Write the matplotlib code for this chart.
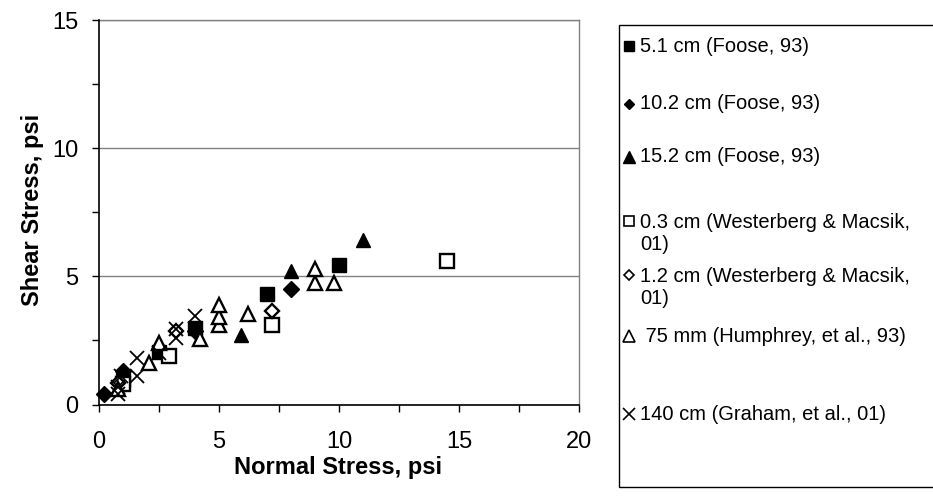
import matplotlib
matplotlib.use("Agg")
import matplotlib.pyplot as plt
from matplotlib.lines import Line2D
from matplotlib.patches import Rectangle

plt.rcParams['font.family'] = ['Liberation Sans', 'DejaVu Sans']

# Normal stress (psi) / shear stress (psi) for each tire-chip size and source
foose51_x = [1.0, 2.5, 4.0, 7.0, 10.0]
foose51_y = [0.95, 2.05, 3.0, 4.3, 5.45]

foose102_x = [0.2, 1.0, 2.5, 4.0, 8.0]
foose102_y = [0.4, 1.3, 2.15, 2.85, 4.5]

foose152_x = [1.0, 2.5, 5.9, 8.0, 11.0]
foose152_y = [1.15, 2.3, 2.7, 5.2, 6.4]

west03_x = [1.0, 2.9, 7.2, 14.5]
west03_y = [0.8, 1.9, 3.1, 5.6]

west12_x = [0.8, 3.2, 7.2]
west12_y = [0.85, 2.85, 3.65]

humph_x = [0.8, 2.1, 2.5, 4.2, 5.0, 5.0, 5.0, 6.2, 9.0, 9.0, 9.8]
humph_y = [0.6, 1.6, 2.4, 2.55, 3.1, 3.4, 3.9, 3.55, 4.75, 5.3, 4.75]

graham_x = [0.8, 0.8, 0.9, 1.6, 1.6, 2.5, 3.2, 3.2, 4.0]
graham_y = [0.4, 0.7, 1.1, 1.1, 1.8, 2.0, 2.6, 2.95, 3.45]

labels = [
    "5.1 cm (Foose, 93)",
    "10.2 cm (Foose, 93)",
    "15.2 cm (Foose, 93)",
    "0.3 cm (Westerberg & Macsik,\n01)",
    "1.2 cm (Westerberg & Macsik,\n01)",
    " 75 mm (Humphrey, et al., 93)",
    "140 cm (Graham, et al., 01)",
]

x_ticks = [0, 5, 10, 15, 20]
y_ticks = [0, 5, 10, 15]

series = [
    (foose51_x, foose51_y, dict(marker='s', ms=9.5, mfc='black', mec='black')),
    (foose102_x, foose102_y, dict(marker='D', ms=8, mfc='black', mec='black')),
    (foose152_x, foose152_y, dict(marker='^', ms=10.5, mfc='black', mec='black')),
    (west03_x, west03_y, dict(marker='s', ms=9.5, mfc='white', mec='black', mew=1.7)),
    (west12_x, west12_y, dict(marker='D', ms=7.5, mfc='white', mec='black', mew=1.7)),
    (humph_x, humph_y, dict(marker='^', ms=10.5, mfc='white', mec='black', mew=1.7)),
    (graham_x, graham_y, dict(marker='x', ms=10.5, mfc='none', mec='black', mew=1.3)),
]

fig = plt.figure(figsize=(9.33, 5.04), dpi=100)
ax = fig.add_axes([0.1061, 0.1974, 0.5145, 0.7629])

for xs, ys, style in series:
    ax.plot(xs, ys, linestyle='none', zorder=3, clip_on=False, **style)

ax.set_xlim(0, 20)
ax.set_ylim(0, 15)
ax.set_xticks(x_ticks)
ax.set_yticks(y_ticks)
ax.set_xticks([2.5, 7.5, 12.5, 17.5], minor=True)
ax.set_yticks([2.5, 7.5, 12.5], minor=True)
ax.tick_params(which='both', direction='out', length=5, width=1, colors='black',
               labelsize=17)
ax.tick_params(axis='x', pad=14)
ax.tick_params(axis='y', pad=10)

ax.yaxis.grid(True, color='#808080', linewidth=1)
ax.set_axisbelow(True)
for side in ('top', 'right'):
    ax.spines[side].set_color('#808080')
    ax.spines[side].set_linewidth(1)
for side in ('left', 'bottom'):
    ax.spines[side].set_color('black')
    ax.spines[side].set_linewidth(1.2)
    ax.spines[side].set_zorder(4)

ax.set_xlabel("Normal Stress, psi", fontsize=17, fontweight='bold')
ax.set_ylabel("Shear Stress, psi", fontsize=17, fontweight='bold')
ax.xaxis.set_label_coords(0.498, -0.133)
ax.yaxis.set_label_coords(-0.115, 0.506)

# Legend box drawn in figure pixels
W, H = 933.0, 504.0
fig.add_artist(Rectangle((619 / W, 1 - 487 / H), 330 / W, (487 - 25) / H,
                         transform=fig.transFigure, facecolor='white',
                         edgecolor='black', linewidth=1))
entry_y = [46, 104, 157, 233, 287, 336, 414]
legend_ms = {'s': 7, 'D': 5.5, '^': 8, 'x': 8}
for (xs, ys, style), lab, py in zip(series, labels, entry_y):
    st = dict(style)
    st['ms'] = legend_ms[st['marker']]
    st['mew'] = 1.2 if st.get('mfc') != 'black' else 1
    my = py - 12 if '\n' in lab else py
    fig.add_artist(Line2D([629 / W], [1 - my / H], transform=fig.transFigure,
                          linestyle='none', **st))
    fig.text(640 / W, 1 - py / H, lab, fontsize=14.5, va='center', ha='left',
             linespacing=1.2)

fig.savefig("out.png", dpi=100)
